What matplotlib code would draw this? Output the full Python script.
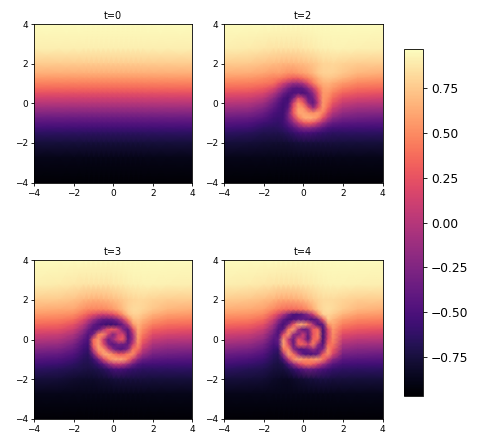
"""Vortex roll-up of a tanh front: four snapshots with a shared colour bar.
Field values are read off the picture at the nodes below, denser near the core.
"""
import numpy as np
import matplotlib; matplotlib.use("Agg")
import matplotlib.pyplot as plt

NODES = [-4, -2.75, -2, -1.5, -1.25, -1, -.75, -.5, -.25, 0, .25, .5, .75, 1, 1.25, 1.5, 2, 2.75, 4]
TICKS = [-4, -2, 0, 2, 4]
CBAR_TICKS = [-.75, -.5, -.25, 0, .25, .5, .75]
TITLES = ["t=0", "t=2", "t=3", "t=4"]
VMIN, VMAX = -.968, .968

# y = 4 down to y = -4, x = -4 to 4
PROFILE_T0 = [.96, .90, .76, .64, .55, .46, .36, .24, .12, 0, -.12, -.24, -.36, -.46, -.55, -.64, -.76, -.88, -.96]

FIELD_T2 = [
    [.96]*19,
    [.90, .89, .87, .86, .86, .86, .86, .86, .86, .87, .88, .89, .90, .91, .91, .92, .92, .91, .90],
    [.76, .75, .72, .70, .69, .68, .68, .68, .69, .70, .72, .74, .77, .80, .80, .81, .79, .77, .76],
    [.64, .63, .60, .56, .58, .55, .52, .52, .55, .58, .62, .68, .75, .78, .79, .78, .74, .67, .64],
    [.55, .54, .50, .46, .44, .40, .34, .30, .30, .38, .46, .55, .65, .72, .74, .72, .66, .58, .55],
    [.46, .45, .42, .38, .25, .12, -.02, -.12, -.12, -.02, .20, .42, .58, .65, .66, .62, .55, .48, .46],
    [.36, .35, .30, .18, .02, -.15, -.32, -.44, -.46, -.40, -.20, .08, .38, .58, .60, .55, .45, .38, .36],
    [.24, .22, .16, -.02, -.18, -.35, -.47, -.50, -.45, -.52, -.42, -.18, .22, .55, .55, .45, .33, .27, .24],
    [.12, .10, .02, -.20, -.35, -.50, -.56, -.30, .20, 0, -.40, -.32, .15, .55, .50, .36, .20, .15, .12],
    [0, -.02, -.12, -.33, -.45, -.55, -.50, .10, .50, .32, -.20, -.42, .05, .55, .44, .25, .08, .02, 0],
    [-.12, -.14, -.25, -.42, -.50, -.56, -.42, .25, .58, .55, .25, -.12, .25, .55, .35, .12, -.05, -.10, -.12],
    [-.24, -.26, -.36, -.50, -.55, -.56, -.30, .28, .60, .62, .55, .50, .58, .45, .18, -.02, -.17, -.22, -.24],
    [-.36, -.38, -.46, -.56, -.58, -.56, -.30, .05, .42, .60, .65, .62, .50, .22, -.02, -.20, -.30, -.33, -.36],
    [-.46, -.48, -.56, -.60, -.62, -.56, -.42, -.20, .05, .25, .32, .25, .08, -.12, -.28, -.38, -.43, -.45, -.46],
    [-.55, -.57, -.64, -.66, -.65, -.62, -.55, -.45, -.32, -.22, -.20, -.25, -.33, -.42, -.50, -.53, -.54, -.55, -.55],
    [-.64, -.66, -.70, -.70, -.70, -.68, -.65, -.60, -.55, -.52, -.52, -.54, -.57, -.60, -.62, -.64, -.64, -.64, -.64],
    [-.76, -.77, -.78, -.79, -.79, -.79, -.78, -.77, -.76, -.75, -.75, -.75, -.75, -.75, -.75, -.75, -.76, -.76, -.76],
    [-.88]*19,
    [-.96]*19,
]

FIELD_T3 = [
    [.96]*19,
    [.90, .89, .87, .86, .86, .86, .86, .86, .86, .87, .88, .89, .90, .91, .91, .92, .92, .91, .90],
    [.76, .75, .72, .68, .66, .65, .65, .66, .68, .70, .72, .75, .78, .80, .81, .81, .79, .77, .76],
    [.64, .62, .60, .52, .48, .47, .47, .47, .50, .55, .62, .70, .78, .82, .82, .80, .74, .67, .64],
    [.55, .53, .50, .38, .30, .22, .15, .12, .15, .22, .35, .55, .72, .78, .78, .74, .65, .58, .55],
    [.46, .44, .38, .20, .05, -.12, -.28, -.38, -.40, -.35, -.20, .10, .45, .70, .72, .66, .55, .48, .46],
    [.36, .34, .24, .02, -.18, -.38, -.50, -.55, -.58, -.56, -.50, -.32, .05, .55, .66, .58, .45, .38, .36],
    [.24, .22, .10, -.15, -.35, -.50, -.40, -.05, .25, .30, .12, -.30, -.42, .20, .62, .50, .32, .27, .24],
    [.12, .09, -.04, -.30, -.48, -.30, .42, .50, .10, -.25, .10, .15, -.48, -.05, .58, .42, .20, .15, .12],
    [0, -.03, -.16, -.42, -.50, .35, .55, .10, -.35, -.10, .20, .30, -.45, -.10, .55, .32, .08, .02, 0],
    [-.12, -.15, -.28, -.50, -.55, .35, .58, .20, -.30, -.45, -.30, -.35, -.40, .10, .50, .20, -.05, -.10, -.12],
    [-.24, -.27, -.38, -.56, -.60, .10, .58, .55, .15, -.25, -.45, -.45, -.20, .42, .40, .05, -.17, -.22, -.24],
    [-.36, -.39, -.48, -.62, -.65, -.30, .30, .60, .62, .45, .30, .28, .45, .50, .12, -.12, -.30, -.33, -.36],
    [-.46, -.49, -.56, -.66, -.68, -.58, -.30, .15, .45, .60, .62, .60, .42, .08, -.20, -.35, -.43, -.45, -.46],
    [-.55, -.58, -.64, -.70, -.70, -.66, -.58, -.42, -.18, .02, .08, .02, -.15, -.35, -.48, -.53, -.54, -.55, -.55],
    [-.64, -.67, -.70, -.72, -.73, -.72, -.70, -.66, -.60, -.52, -.50, -.52, -.56, -.60, -.62, -.64, -.64, -.64, -.64],
    [-.76, -.77, -.80, -.81, -.81, -.81, -.80, -.79, -.78, -.76, -.75, -.75, -.75, -.75, -.75, -.75, -.76, -.76, -.76],
    [-.88]*19,
    [-.96]*19,
]

FIELD_T4 = [
    [.96]*19,
    [.90, .89, .87, .86, .85, .85, .85, .85, .86, .87, .88, .89, .90, .91, .92, .92, .92, .91, .90],
    [.76, .74, .70, .66, .63, .62, .62, .63, .65, .68, .72, .76, .80, .82, .82, .82, .80, .77, .76],
    [.64, .62, .58, .48, .42, .38, .36, .36, .38, .42, .50, .62, .75, .82, .84, .82, .75, .68, .64],
    [.55, .53, .48, .30, .15, -.05, -.30, -.50, -.50, -.40, -.20, .10, .50, .78, .80, .76, .66, .58, .55],
    [.46, .44, .36, .10, -.15, -.40, -.55, -.50, -.40, -.40, -.45, -.50, -.30, .30, .75, .68, .55, .48, .46],
    [.36, .33, .22, -.08, -.35, -.55, -.30, .25, .60, .60, .40, -.05, -.50, -.40, .50, .62, .45, .38, .36],
    [.24, .21, .08, -.22, -.48, -.42, .40, .58, -.05, -.40, -.30, .30, .35, -.55, .20, .55, .33, .27, .24],
    [.12, .08, -.05, -.35, -.50, .20, .55, -.15, -.30, .10, -.40, .25, .45, -.55, .15, .52, .20, .15, .12],
    [0, -.04, -.16, -.45, -.40, .55, .05, -.40, .25, .05, -.45, .35, .35, -.55, .20, .48, .08, .02, 0],
    [-.12, -.16, -.28, -.52, -.45, .60, .20, -.40, .30, .35, .10, .45, -.15, -.48, .35, .42, -.05, -.10, -.12],
    [-.24, -.28, -.38, -.58, -.60, .40, .50, -.20, -.45, -.45, -.35, -.15, -.40, -.25, .50, .30, -.17, -.22, -.24],
    [-.36, -.40, -.48, -.64, -.66, -.10, .58, .40, -.10, -.45, -.50, -.50, -.35, .30, .50, .15, -.30, -.33, -.36],
    [-.46, -.50, -.56, -.68, -.70, -.50, .05, .50, .62, .55, .50, .55, .58, .42, .10, -.20, -.43, -.45, -.46],
    [-.55, -.59, -.64, -.72, -.74, -.70, -.50, -.20, .10, .30, .38, .30, .12, -.10, -.30, -.45, -.54, -.55, -.55],
    [-.64, -.68, -.70, -.75, -.76, -.75, -.70, -.62, -.52, -.42, -.36, -.38, -.44, -.50, -.55, -.60, -.63, -.64, -.64],
    [-.76, -.77, -.78, -.82, -.83, -.84, -.84, -.82, -.80, -.78, -.76, -.75, -.74, -.74, -.74, -.75, -.75, -.76, -.76],
    [-.88]*19,
    [-.96]*19,
]

x = np.array(NODES, dtype=float)
y = x[::-1]
fields = [np.tile(np.array(PROFILE_T0)[:, None], (1, 19)), np.array(FIELD_T2), np.array(FIELD_T3), np.array(FIELD_T4)]
boxes = [(34, 24, 158.5, 158.5), (224, 24, 158.5, 158.5), (34, 260, 158.5, 159), (224, 260, 158.5, 159)]

W, H = 480, 447
fig = plt.figure(figsize=(W / 100, H / 100), dpi=100)
for z, title, (l, t, w, h) in zip(fields, TITLES, boxes):
    ax = fig.add_axes([l / W, 1 - (t + h) / H, w / W, h / H])
    mesh = ax.pcolormesh(x, y, z, cmap="magma", shading="gouraud", vmin=VMIN, vmax=VMAX)
    ax.set_xlim(-4, 4); ax.set_ylim(-4, 4)
    ax.set_xticks(TICKS); ax.set_yticks(TICKS)
    ax.tick_params(labelsize=6.5, length=2.5, width=.6, pad=2)
    for s in ax.spines.values():
        s.set_linewidth(.6)
    ax.set_title(title, fontsize=7, pad=3.5)

cax = fig.add_axes([404 / W, 1 - 396 / H, 18.5 / W, 347 / H])
cb = fig.colorbar(mesh, cax=cax, ticks=CBAR_TICKS)
cb.ax.tick_params(labelsize=8.8, length=3, width=.6, pad=3)
cb.outline.set_linewidth(.6)
fig.savefig("out.png", dpi=100)
